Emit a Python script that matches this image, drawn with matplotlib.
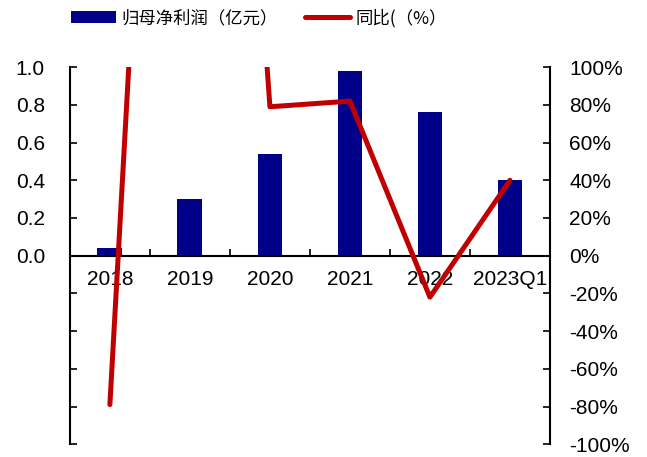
import matplotlib
matplotlib.use("Agg")
import matplotlib.pyplot as plt
import numpy as np

categories = ["2018", "2019", "2020", "2021", "2022", "2023Q1"]
profit = [0.04, 0.30, 0.54, 0.98, 0.76, 0.40]          # 归母净利润（亿元）
yoy = [-79, 680, 79, 82, -22, 40]                       # 同比(%)

plt.rcParams["font.family"] = ["Liberation Sans", "Noto Sans CJK SC", "DejaVu Sans"]

fig = plt.figure(figsize=(6.47, 4.57), dpi=100)
ax = fig.add_axes([0.108, 0.028, 0.742, 0.825])
x = np.arange(len(categories))

bars = ax.bar(x, profit, width=0.31, color="#000088", zorder=2,
              label="归母净利润（亿元）")
ax.set_xlim(-0.5, len(categories) - 0.5)
ax.set_ylim(-1.0, 1.0)
ax.set_yticks(np.linspace(-1, 1, 11))
ax.set_yticklabels(["" if v < -1e-9 else f"{v:.1f}" for v in np.linspace(-1, 1, 11)])
ax.tick_params(axis="y", direction="in", length=5, width=1.2, labelsize=15, pad=18)

ax.spines["top"].set_visible(False)
ax.spines["right"].set_visible(False)
ax.spines["bottom"].set_position(("data", 0))
for s in ["left", "bottom"]:
    ax.spines[s].set_linewidth(1.5)

ax.set_xticks(x)
ax.set_xticklabels(categories)
ax.tick_params(axis="x", which="major", length=0, labelsize=15, pad=10)
ax.set_xticks(np.arange(0.5, len(categories) - 0.5, 1), minor=True)
ax.tick_params(axis="x", which="minor", direction="in", length=5, width=1.2)

ax2 = ax.twinx()
ax2.set_ylim(-100, 100)
ax2.set_yticks(np.arange(-100, 101, 20))
ax2.set_yticklabels([f"{v}%" for v in np.arange(-100, 101, 20)])
ax2.tick_params(axis="y", direction="in", length=5, width=1.2, labelsize=15, pad=14)
for s in ["top", "left", "bottom"]:
    ax2.spines[s].set_visible(False)
ax2.spines["right"].set_linewidth(1.5)

line, = ax2.plot(x, yoy, color="#C00000", linewidth=3.6, zorder=3,
                 solid_capstyle="round", label="同比(（%）")

fig.legend(handles=[bars, line], labels=["归母净利润（亿元）", "同比(（%）"],
           loc="center", bbox_to_anchor=(0.40, 0.961), ncol=2, frameon=False,
           prop={"family": ["Noto Sans CJK SC", "DejaVu Sans"], "size": 12.5},
           handlelength=2.6, handleheight=0.65, handletextpad=0.3, columnspacing=1.6)

plt.savefig("out.png", dpi=100, facecolor="white")
